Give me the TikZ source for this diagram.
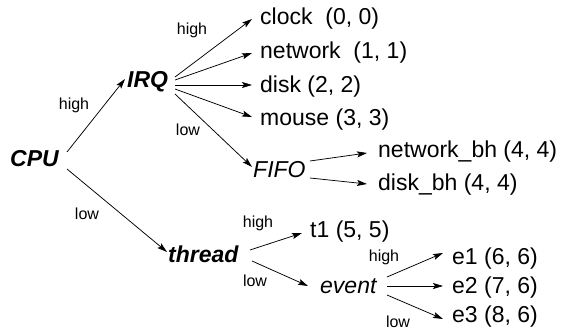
\documentclass[tikz,border=0pt]{standalone}
\usepackage{fontspec}
\setmainfont{Liberation Sans}
\usetikzlibrary{arrows.meta}
\begin{document}
\begin{tikzpicture}[x=1pt,y=1pt,
  txt/.style={font=\fontsize{23}{27}\selectfont, inner sep=0pt, anchor=base west},
  bi/.style={txt, font=\fontsize{23}{27}\selectfont\bfseries\itshape},
  it/.style={txt, font=\fontsize{23}{27}\selectfont\itshape},
  lbl/.style={font=\fontsize{16}{18}\selectfont, inner sep=0pt},
  arr/.style={-{Stealth[length=10pt,width=6pt,inset=2pt]}, line width=0.75pt}]
\useasboundingbox (0,0) rectangle (561,332);
% main nodes
\node[bi] (CPU) at (10,165) {CPU};
\node[bi] (IRQ) at (127,244) {IRQ};
\node[bi] (thread) at (168,70) {thread};
\node[it] (FIFO) at (253,154) {FIFO};
\node[it] (event) at (320,39) {event};
% leaves
\node[txt] (clock) at (260,307) {clock\ \ (0, 0)};
\node[txt] (network) at (260,273) {network\ \ (1, 1)};
\node[txt] (disk) at (260,239) {disk (2, 2)};
\node[txt] (mouse) at (260,206) {mouse (3, 3)};
\node[txt] (nbh) at (378,174) {network\_bh (4, 4)};
\node[txt] (dbh) at (378,142) {disk\_bh (4, 4)};
\node[txt] (t1) at (310,95) {t1 (5, 5)};
\node[txt] (e1) at (452,68) {e1 (6, 6)};
\node[txt] (e2) at (452,39) {e2 (7, 6)};
\node[txt] (e3) at (452,10) {e3 (8, 6)};
% labels
\node[lbl] (l1) at (74,227) {high};
\node[lbl] (l2) at (192,302) {high};
\node[lbl] (l3) at (188,202) {low};
\node[lbl] (l4) at (87,118) {low};
\node[lbl] (l5) at (258,109) {high};
\node[lbl] (l6) at (255,51) {low};
\node[lbl] (l7) at (384,75) {high};
\node[lbl] (l8) at (398,10) {low};
% arrows
\draw[arr] ([shift={(57pt,15pt)}]CPU.base west) -- ([shift={(-2pt,9pt)}]IRQ.base west);
\draw[arr] ([shift={(57pt,-2pt)}]CPU.base west) -- ([shift={(-1pt,10pt)}]thread.base west);
\draw[arr] ([shift={(48pt,11pt)}]IRQ.base west) -- ([shift={(-8pt,6pt)}]clock.base west);
\draw[arr] ([shift={(48pt,8pt)}]IRQ.base west) -- ([shift={(-8pt,6pt)}]network.base west);
\draw[arr] ([shift={(48pt,3pt)}]IRQ.base west) -- ([shift={(-8pt,8pt)}]disk.base west);
\draw[arr] ([shift={(48pt,-1pt)}]IRQ.base west) -- ([shift={(-8pt,9pt)}]mouse.base west);
\draw[arr] ([shift={(48pt,-6pt)}]IRQ.base west) -- ([shift={(-1pt,11pt)}]FIFO.base west);
\draw[arr] ([shift={(57pt,17pt)}]FIFO.base west) -- ([shift={(-11pt,5pt)}]nbh.base west);
\draw[arr] ([shift={(57pt,0pt)}]FIFO.base west) -- ([shift={(-11pt,6pt)}]dbh.base west);
\draw[arr] ([shift={(82pt,12pt)}]thread.base west) -- ([shift={(-8pt,4pt)}]t1.base west);
\draw[arr] ([shift={(84pt,1pt)}]thread.base west) -- ([shift={(-12pt,7pt)}]event.base west);
\draw[arr] ([shift={(67pt,16pt)}]event.base west) -- ([shift={(-9pt,11pt)}]e1.base west);
\draw[arr] ([shift={(67pt,7pt)}]event.base west) -- ([shift={(-9pt,7pt)}]e2.base west);
\draw[arr] ([shift={(67pt,-2pt)}]event.base west) -- ([shift={(-9pt,3pt)}]e3.base west);
\end{tikzpicture}
\end{document}
